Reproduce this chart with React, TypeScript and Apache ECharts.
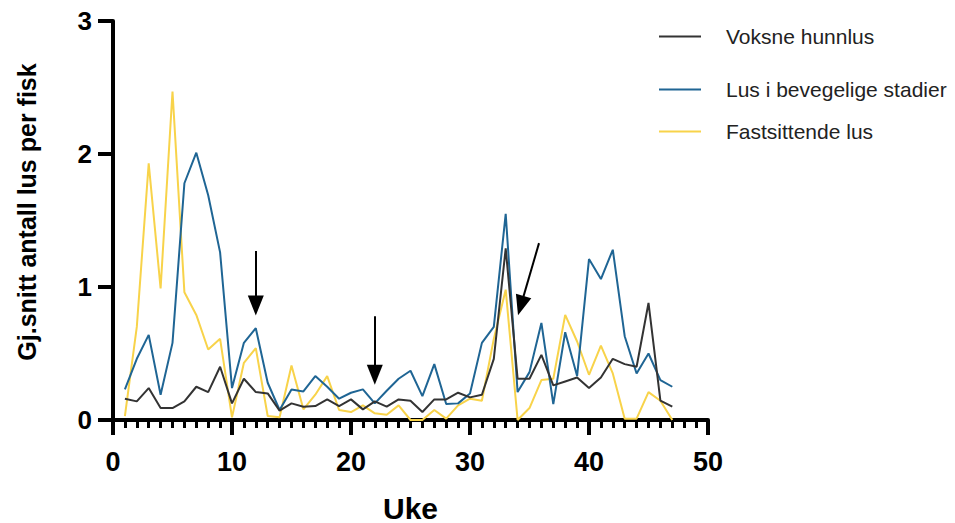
import React, { useEffect, useRef } from "react";
import * as echarts from "echarts";

const weeks = [1, 2, 3, 4, 5, 6, 7, 8, 9, 10, 11, 12, 13, 14, 15, 16, 17, 18, 19, 20, 21, 22, 23, 24, 25, 26, 27, 28, 29, 30, 31, 32, 33, 34, 35, 36, 37, 38, 39, 40, 41, 42, 43, 44, 45, 46, 47];

const voksneHunnlus = [0.16, 0.14, 0.24, 0.09, 0.09, 0.14, 0.25, 0.21, 0.4, 0.125, 0.31, 0.21, 0.2, 0.07, 0.125, 0.1, 0.105, 0.155, 0.105, 0.155, 0.08, 0.14, 0.1, 0.155, 0.145, 0.06, 0.155, 0.155, 0.205, 0.17, 0.19, 0.46, 1.29, 0.31, 0.31, 0.49, 0.26, 0.29, 0.32, 0.24, 0.32, 0.46, 0.42, 0.4, 0.88, 0.145, 0.1];

const lusBevegelige = [0.23, 0.46, 0.64, 0.19, 0.58, 1.78, 2.01, 1.69, 1.26, 0.24, 0.58, 0.69, 0.28, 0.075, 0.23, 0.215, 0.33, 0.25, 0.16, 0.205, 0.23, 0.125, 0.22, 0.31, 0.37, 0.18, 0.42, 0.12, 0.125, 0.2, 0.58, 0.7, 1.55, 0.21, 0.36, 0.73, 0.12, 0.66, 0.33, 1.21, 1.06, 1.28, 0.63, 0.35, 0.5, 0.3, 0.25];

const fastsittendeLus = [0.03, 0.7, 1.93, 0.99, 2.47, 0.96, 0.79, 0.53, 0.61, 0.02, 0.43, 0.54, 0.03, 0.02, 0.41, 0.08, 0.19, 0.33, 0.075, 0.06, 0.11, 0.05, 0.04, 0.11, 0.0, 0.0, 0.075, 0.01, 0.11, 0.16, 0.145, 0.61, 0.98, 0.0, 0.09, 0.3, 0.31, 0.79, 0.59, 0.34, 0.56, 0.35, 0.01, 0.01, 0.21, 0.145, 0.0];

const seriesNames = ["Voksne hunnlus", "Lus i bevegelige stadier", "Fastsittende lus"];

// Arrow annotations (week, value): start of shaft and centre of arrow head
const arrowStarts = [[12, 1.27], [22, 0.78], [35.8, 1.33]];
const arrowEnds = [[12, 0.86], [22, 0.34], [34.27, 0.86]];

const FONT = "'Liberation Sans', Arial, Helvetica, sans-serif";

export default function App() {
  const ref = useRef<HTMLDivElement>(null);

  useEffect(() => {
    if (!ref.current) return;
    const chart = echarts.init(ref.current, null, { renderer: "svg" });

    const pairs = (vals: number[]) => weeks.map((w, i) => [w, vals[i]]);

    const legendTops = [26, 79, 121];
    const colors = ["#333333", "#1f6594", "#f8d34a"];

    chart.setOption({
      animation: false,
      backgroundColor: "#ffffff",
      textStyle: { fontFamily: FONT },
      grid: {
        left: 113,
        top: 21,
        width: 595,
        height: 399,
        containLabel: false,
        outerBoundsMode: "none",
      },
      legend: seriesNames.map((name, i) => ({
        data: [{ name, icon: "rect", itemStyle: { color: colors[i] } }],
        left: 659,
        top: legendTops[i],
        padding: 0,
        itemWidth: 42,
        itemHeight: 2,
        selectedMode: false,
        textStyle: { fontFamily: FONT, fontSize: 21, color: "#222", padding: [0, 0, 0, 20] },
      })),
      xAxis: {
        type: "value",
        min: 0,
        max: 50,
        interval: 10,
        name: "Uke",
        nameLocation: "middle",
        nameGap: 73,
        nameTextStyle: { fontFamily: FONT, fontSize: 30, fontWeight: "bold", color: "#000" },
        axisLine: { show: true, lineStyle: { color: "#000", width: 4 } },
        axisTick: { show: true, length: 15, lineStyle: { color: "#000", width: 4 } },
        minorTick: { show: true, splitNumber: 10, length: 8, lineStyle: { color: "#000", width: 3 } },
        axisLabel: { fontFamily: FONT, fontSize: 27, fontWeight: "bold", color: "#000", margin: 28 },
        splitLine: { show: false },
        minorSplitLine: { show: false },
      },
      yAxis: {
        type: "value",
        min: 0,
        max: 3,
        interval: 1,
        name: "Gj.snitt antall lus per fisk",
        nameLocation: "middle",
        nameGap: 74,
        nameTextStyle: { fontFamily: FONT, fontSize: 25, fontWeight: "bold", color: "#000", padding: [0, 0, 0, 17] },
        axisLine: { show: true, lineStyle: { color: "#000", width: 4 } },
        axisTick: { show: true, length: 15, lineStyle: { color: "#000", width: 4 } },
        axisLabel: { fontFamily: FONT, fontSize: 26, fontWeight: "bold", color: "#000", margin: 21 },
        splitLine: { show: false },
      },
      series: [
        {
          name: seriesNames[2],
          type: "line",
          data: pairs(fastsittendeLus),
          symbol: "none",
          lineStyle: { color: colors[2], width: 2 },
          itemStyle: { color: colors[2] },
          silent: true,
        },
        {
          name: seriesNames[1],
          type: "line",
          data: pairs(lusBevegelige),
          symbol: "none",
          lineStyle: { color: colors[1], width: 2 },
          itemStyle: { color: colors[1] },
          silent: true,
        },
        {
          name: seriesNames[0],
          type: "line",
          data: pairs(voksneHunnlus),
          symbol: "none",
          lineStyle: { color: colors[0], width: 2 },
          itemStyle: { color: colors[0] },
          silent: true,
          markLine: {
            silent: true,
            animation: false,
            symbol: ["none", "triangle"],
            symbolSize: [0, 18],
            label: { show: false },
            lineStyle: { color: "#000", width: 2, type: "solid" },
            emphasis: { disabled: true },
            data: arrowStarts.map((s, i) => [
              { coord: s, symbol: "none" },
              { coord: arrowEnds[i], symbol: "triangle", symbolSize: [16, 20] },
            ]),
          },
        },
      ],
    });

    return () => chart.dispose();
  }, []);

  return (
    <div
      ref={ref}
      style={{ position: "fixed", left: 0, top: 0, width: 955, height: 523, background: "#fff" }}
    />
  );
}
